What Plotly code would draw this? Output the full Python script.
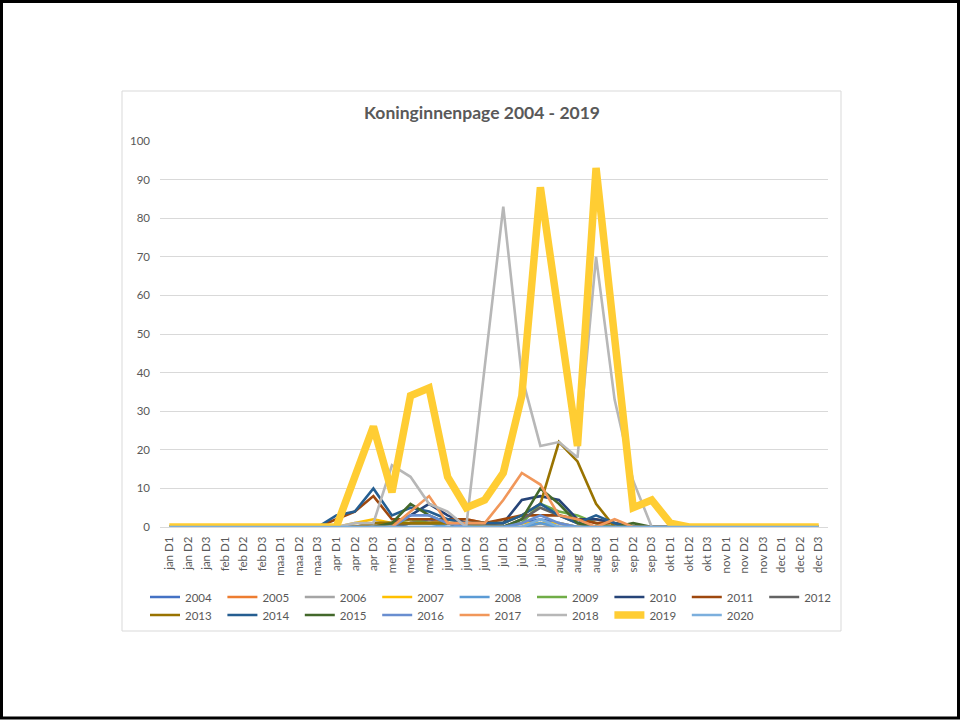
import plotly.graph_objects as go

months = ["jan", "feb", "maa", "apr", "mei", "jun", "jul", "aug", "sep", "okt", "nov", "dec"]
categories = [f"{m} D{d}" for m in months for d in (1, 2, 3)]

years = ["2004", "2005", "2006", "2007", "2008", "2009", "2010", "2011", "2012",
         "2013", "2014", "2015", "2016", "2017", "2018", "2019", "2020"]
colors = ["#4472C4", "#ED7D31", "#A5A5A5", "#FFC000", "#5B9BD5", "#70AD47", "#264478",
          "#9E480E", "#636363", "#997300", "#255E91", "#43682B", "#698ED0", "#F1975A",
          "#B7B7B7", "#FFCD33", "#7CAFDD"]

Z9 = [0] * 9
Z8 = [0] * 8
#                  apr       mei       jun       jul         aug         sep       okt
y2004 = Z9 + [0, 0, 0,  0, 1, 2,  1, 0, 0,  0, 1, 2,   1, 0, 0,    0, 0, 0,  0] + Z8
y2005 = Z9 + [0, 0, 0,  0, 1, 1,  2, 2, 1,  0, 0, 1,   0, 0, 2,    1, 0, 0,  0] + Z8
y2006 = Z9 + [0, 0, 0,  0, 0, 0,  0, 0, 0,  0, 0, 0,   0, 0, 0,    0, 0, 0,  0] + Z8
y2007 = Z9 + [0, 1, 2,  1, 1, 1,  1, 1, 0,  0, 1, 1,   1, 0, 0,    0, 0, 0,  0] + Z8
y2008 = Z9 + [0, 0, 0,  0, 1, 1,  0, 0, 0,  0, 0, 1,   0, 0, 0,    0, 0, 0,  0] + Z8
y2009 = Z9 + [0, 0, 0,  1, 2, 1,  1, 0, 0,  0, 1, 6,   4, 3, 1,    0, 0, 0,  0] + Z8
y2010 = Z9 + [0, 0, 1,  1, 3, 6,  3, 1, 1,  1, 7, 8,   7, 2, 2,    1, 0, 0,  0] + Z8
y2011 = Z9 + [2, 4, 8,  2, 2, 2,  2, 2, 1,  2, 3, 3,   3, 2, 1,    1, 0, 0,  0] + Z8
y2012 = Z9 + [0, 0, 0,  0, 1, 1,  1, 0, 0,  0, 2, 5,   3, 1, 0,    0, 0, 0,  0] + Z8
y2013 = Z9 + [0, 0, 1,  1, 1, 1,  1, 1, 1,  1, 3, 6,  22, 17, 6,   0, 0, 0,  0] + Z8
y2014 = Z9 + [3, 4, 10, 3, 5, 4,  2, 1, 1,  1, 3, 6,   3, 1, 3,    1, 0, 0,  0] + Z8
y2015 = Z9 + [0, 0, 0,  1, 6, 3,  1, 0, 0,  0, 2, 10,  6, 1, 0,    0, 1, 0,  0] + Z8
y2016 = Z9 + [0, 0, 0,  0, 3, 3,  1, 0, 0,  0, 1, 3,   1, 0, 0,    0, 0, 0,  0] + Z8
y2017 = Z9 + [0, 0, 0,  0, 4, 8,  1, 1, 1,  7, 14, 11, 3, 2, 0,    2, 0, 0,  0] + Z8
y2018 = Z9 + [0, 1, 1, 16, 13, 6, 4, 0, 42, 83, 39, 21, 22, 18, 70, 33, 12, 0, 0] + Z8
y2019 = Z9 + [0, 13, 26, 9, 34, 36, 13, 5, 7, 14, 34, 88, 55, 21, 93, 48, 5, 7, 1] + Z8
y2020 = Z9 + [0, 0, 0,  0, 0, 0,  0, 0, 0,  0, 0, 2,   0, 0, 0,    0, 0, 0,  0] + Z8

series = [y2004, y2005, y2006, y2007, y2008, y2009, y2010, y2011, y2012,
          y2013, y2014, y2015, y2016, y2017, y2018, y2019, y2020]

y_ticks = [0, 10, 20, 30, 40, 50, 60, 70, 80, 90, 100]

FONT = "Lato, 'Open Sans', sans-serif"
TXT = "#595959"

W, H = 961, 720
L, R, T, B = 160, 961 - 828, 141, 720 - 527
PW, PH = W - L - R, H - T - B


def px(x):
    return (x - L) / PW


def py(y):
    return (H - B - y) / PH


fig = go.Figure()
for i, (name, vals, col) in enumerate(zip(years, series, colors)):
    fig.add_trace(go.Scatter(
        x=categories, y=vals, name=name, mode="lines",
        line=dict(color=col, width=7.5 if name == "2019" else 2.6),
        legend="legend" if i < 9 else "legend2",
    ))

leg_common = dict(orientation="h", xanchor="left", yanchor="middle",
                  entrywidth=32.4, entrywidthmode="pixels", traceorder="normal",
                  bgcolor="rgba(0,0,0,0)", font=dict(family=FONT, size=11.5, color=TXT),
                  itemclick=False, itemdoubleclick=False)

fig.update_layout(
    width=W, height=H,
    margin=dict(l=L, r=R, t=T, b=B),
    paper_bgcolor="white", plot_bgcolor="white",
    title=dict(text="Koninginnenpage 2004 - 2019", x=482 / W, y=1 - 113 / H,
               xanchor="center", yanchor="middle",
               font=dict(family=FONT, size=17.5, color=TXT, weight="bold")),
    xaxis=dict(type="category", categoryorder="array", categoryarray=categories,
               range=[-0.5, 35.5], tickangle=-90, showgrid=False,
               showline=True, linecolor="#D9D9D9", linewidth=1,
               ticks="", ticklabelstandoff=4,
               tickfont=dict(family=FONT, size=11.5, color=TXT)),
    yaxis=dict(range=[0, 100], tickvals=y_ticks, showgrid=True, gridcolor="#D9D9D9",
               gridwidth=1, zeroline=False, showline=False, ticks="",
               ticklabelstandoff=9,
               tickfont=dict(family=FONT, size=11.5, color=TXT)),
    legend=dict(x=px(145), y=py(597), **leg_common),
    legend2=dict(x=px(145), y=py(615), **leg_common),
    showlegend=True,
    shapes=[
        dict(type="rect", xref="paper", yref="paper",
             x0=px(122), x1=px(841), y0=py(631), y1=py(91),
             line=dict(color="#D9D9D9", width=1), fillcolor="rgba(0,0,0,0)", layer="below"),
        dict(type="rect", xref="paper", yref="paper",
             x0=px(1.5), x1=px(958.5), y0=py(718), y1=py(1.5),
             line=dict(color="black", width=3), fillcolor="rgba(0,0,0,0)", layer="below"),
    ],
)

fig.write_html("out.html",
               config={"displayModeBar": False},
               post_script="document.body.style.margin='0';document.body.style.padding='0';")
